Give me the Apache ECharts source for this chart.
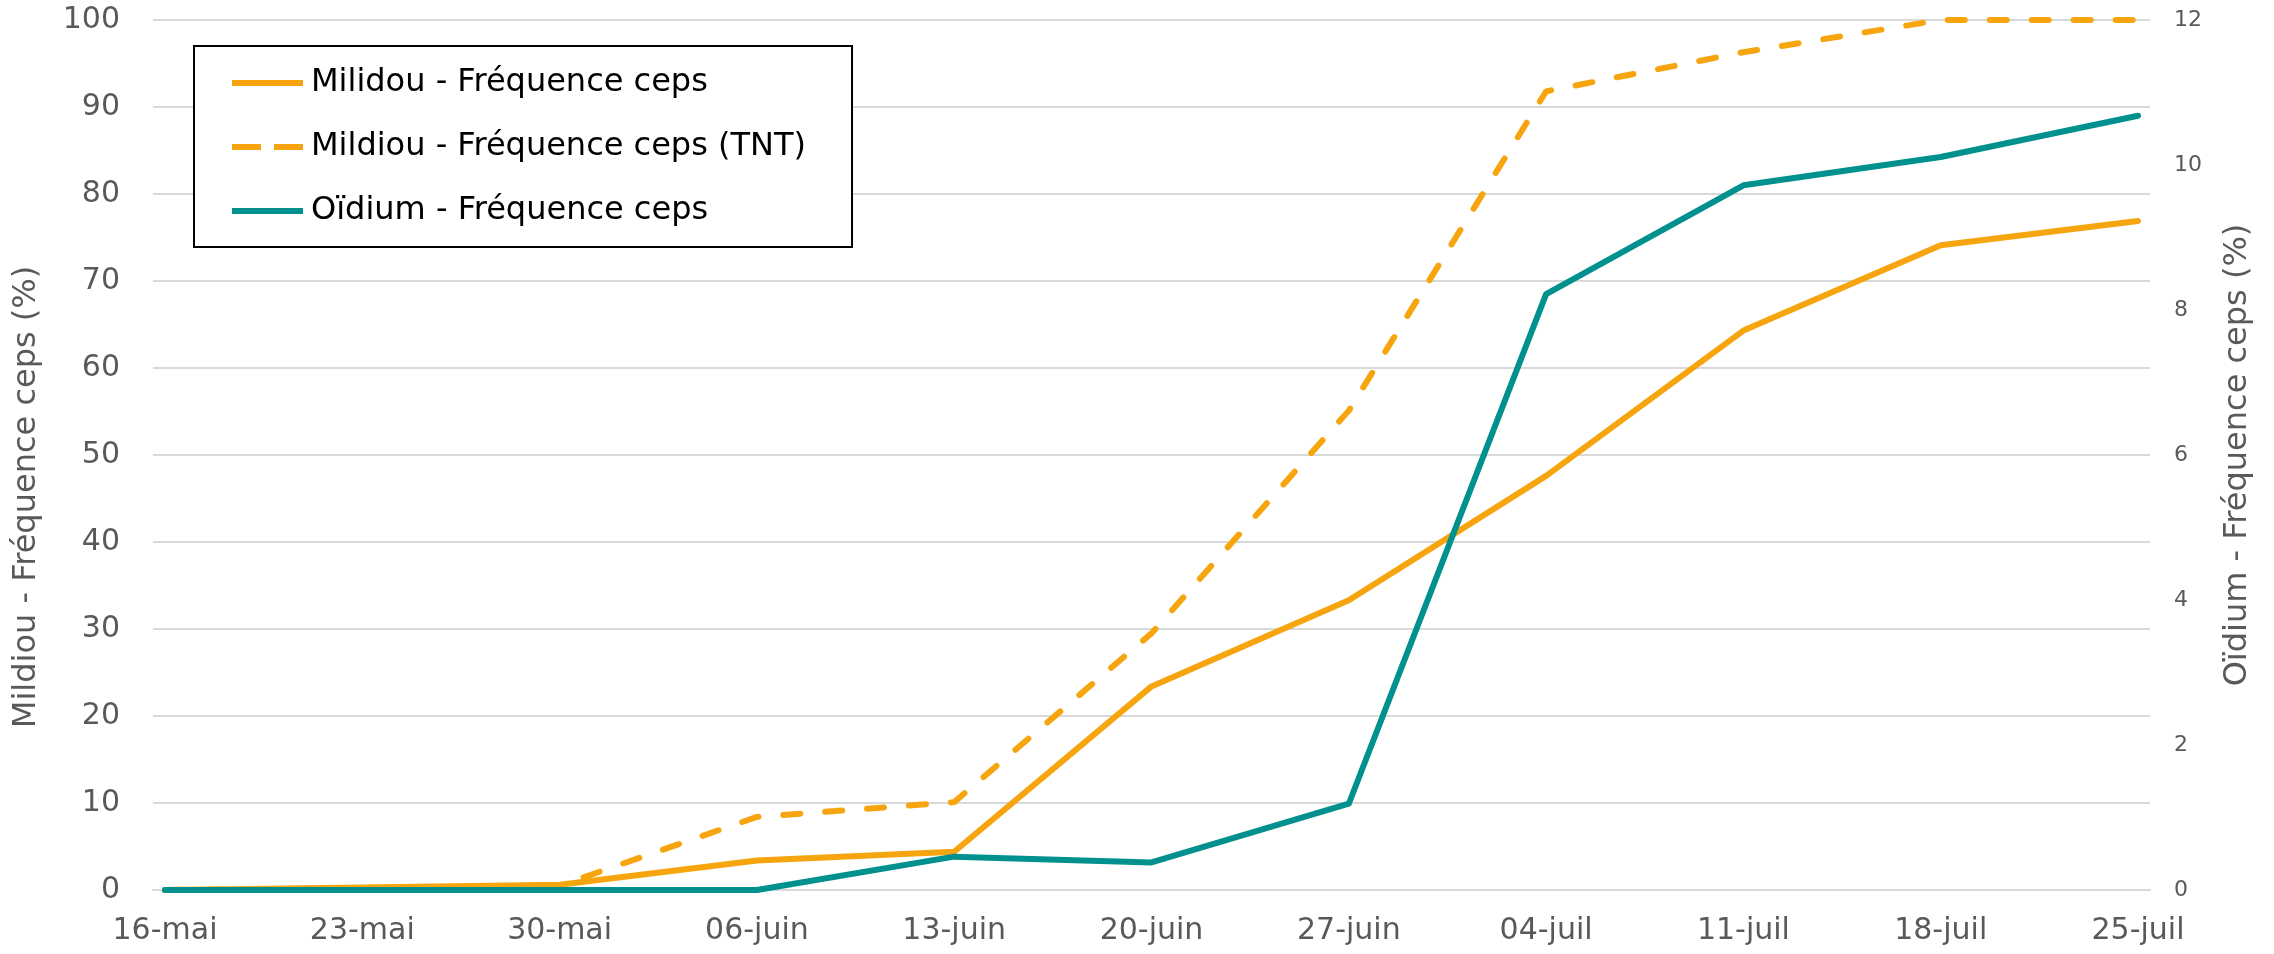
<!DOCTYPE html>
<html>
<head>
<meta charset="utf-8">
<script src="https://cdn.jsdelivr.net/npm/echarts@6/dist/echarts.min.js"></script>
<style>
  html, body { margin: 0; padding: 0; background: #fff; }
  #chart { width: 2274px; height: 954px; }
</style>
</head>
<body>
<div id="chart"></div>
<script>
// dates de relevé
const categories = ['16-mai', '23-mai', '30-mai', '06-juin', '13-juin', '20-juin', '27-juin', '04-juil', '11-juil', '18-juil', '25-juil'];
// Mildiou, fréquence ceps (%) - axe gauche
const mildiou = [0, 0.3, 0.6, 3.4, 4.4, 23.4, 33.3, 47.6, 64.3, 74.1, 76.9];
// Mildiou TNT (%) - axe gauche
const mildiouTnt = [0, 0.2, 0.5, 8.4, 10.1, 29.5, 55.1, 91.8, 96.3, 100, 100];
// Oïdium, fréquence ceps (%) - axe droit
const oidium = [0, 0, 0, 0, 0.46, 0.38, 1.19, 8.22, 9.72, 10.11, 10.68];

const leftTicks = [0, 10, 20, 30, 40, 50, 60, 70, 80, 90, 100];
const rightTicks = [0, 2, 4, 6, 8, 10, 12];

const FONT = 'DejaVu Sans';
const GREY = '#595959';
const ORANGE = '#F6A50F';
const TEAL = '#00918F';

const pts = arr => arr.map((v, i) => [i, v]);
const idx = categories.map((c, i) => i);

// icônes de légende : trait plein / tirets
const SOLID_ICON = 'path://M0,0H71V6H0Z';
const DASH_ICON = 'path://M0,0H29V6H0Z M42,0H71V6H42Z';

const chart = echarts.init(document.getElementById('chart'));
chart.setOption({
  animation: false,
  textStyle: { fontFamily: FONT },
  grid: { left: 153, right: 124, top: 20, bottom: 64, outerBoundsMode: 'none', containLabel: false },
  legend: {
    orient: 'vertical',
    left: 194,
    top: 46,
    padding: [19, 46, 18, 38],
    itemWidth: 71,
    itemHeight: 6,
    itemGap: 28,
    itemSymbolKeepAspect: false,
    backgroundColor: '#fff',
    borderColor: '#000',
    borderWidth: 2,
    textStyle: { fontFamily: FONT, fontSize: 32, color: '#000', lineHeight: 36, padding: [0, 0, 0, 3] },
    data: [
      { name: 'Milidou - Fréquence ceps', icon: SOLID_ICON, itemStyle: { color: ORANGE } },
      { name: 'Mildiou - Fréquence ceps (TNT)', icon: DASH_ICON, itemStyle: { color: ORANGE } },
      { name: 'Oïdium - Fréquence ceps', icon: SOLID_ICON, itemStyle: { color: TEAL } }
    ]
  },
  xAxis: {
    type: 'value',
    min: -0.0608,
    max: 10.0608,
    axisLine: { show: true, onZero: false, lineStyle: { color: '#d9d9d9', width: 2 } },
    axisTick: { show: false },
    splitLine: { show: false },
    axisLabel: {
      customValues: idx,
      formatter: v => categories[Math.round(v)],
      fontSize: 30,
      color: GREY,
      margin: 26
    }
  },
  yAxis: [
    {
      type: 'value',
      min: 0,
      max: 100,
      interval: 10,
      name: 'Mildiou - Fréquence ceps (%)',
      nameLocation: 'middle',
      nameRotate: 90,
      nameGap: 110,
      nameTextStyle: { fontSize: 32, color: GREY, padding: [0, 84, 0, 0] },
      axisLine: { show: false },
      axisTick: { show: false },
      axisLabel: { fontSize: 30, color: GREY, margin: 33,
        formatter: v => leftTicks.includes(v) ? String(v) : '' },
      splitLine: { lineStyle: { color: '#d9d9d9', width: 2 } }
    },
    {
      type: 'value',
      min: 0,
      max: 12,
      interval: 2,
      name: 'Oïdium - Fréquence ceps (%)',
      nameLocation: 'middle',
      nameRotate: 90,
      nameGap: 72,
      nameTextStyle: { fontSize: 32, color: GREY },
      axisLine: { show: false },
      axisTick: { show: false },
      axisLabel: { fontSize: 22, color: GREY, margin: 24,
        formatter: v => rightTicks.includes(v) ? String(v) : '' },
      splitLine: { show: false }
    }
  ],
  series: [
    {
      name: 'Mildiou - Fréquence ceps (TNT)',
      type: 'line',
      yAxisIndex: 0,
      symbol: 'none',
      data: pts(mildiouTnt),
      itemStyle: { color: ORANGE },
      lineStyle: { color: ORANGE, width: 6, type: [17, 25], cap: 'round' },
      z: 2
    },
    {
      name: 'Milidou - Fréquence ceps',
      type: 'line',
      yAxisIndex: 0,
      symbol: 'none',
      data: pts(mildiou),
      itemStyle: { color: ORANGE },
      lineStyle: { color: ORANGE, width: 6, cap: 'round', join: 'round' },
      z: 3
    },
    {
      name: 'Oïdium - Fréquence ceps',
      type: 'line',
      yAxisIndex: 1,
      symbol: 'none',
      data: pts(oidium),
      itemStyle: { color: TEAL },
      lineStyle: { color: TEAL, width: 6, cap: 'round', join: 'round' },
      z: 4
    }
  ]
});
</script>
</body>
</html>
